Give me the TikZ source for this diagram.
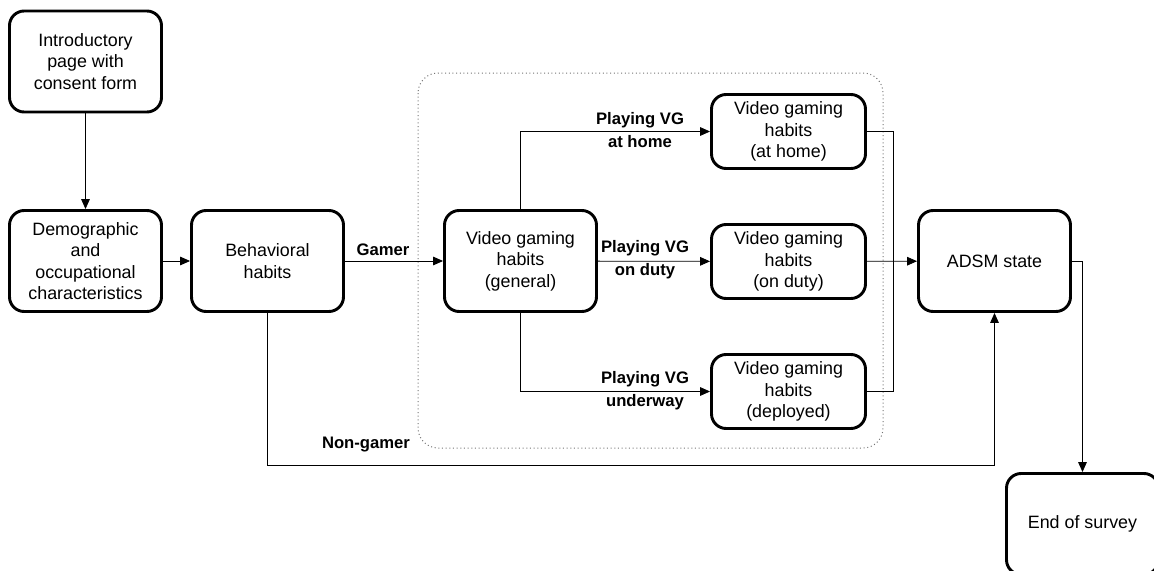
\documentclass[tikz,border=0pt]{standalone}
\usepackage{fontspec}
\setmainfont{Liberation Sans}
\usetikzlibrary{arrows.meta}

\tikzset{every picture/.style={line width=0.75pt}}
\tikzset{
  stepbox/.style={draw, line width=2.2pt, rounded corners=11pt, align=center,
    minimum width=114pt, minimum height=75.75pt, inner sep=2pt},
  vgbox/.style={stepbox, minimum width=115.5pt, minimum height=55.5pt},
  conn/.style={line width=0.6pt},
  arr/.style={conn, -{Triangle[length=7.5pt,width=6.5pt]}},
  tag/.style={font=\fontsize{12.5}{17}\selectfont\bfseries, align=center, inner sep=0.75pt}
}

\begin{document}
\begin{tikzpicture}[x=0.75pt,y=0.75pt,yscale=-1,xscale=1,
  every node/.append style={font=\fontsize{13.4}{16.1}\selectfont}]
\useasboundingbox (0,0) rectangle (1154,571);
\clip (0,0) rectangle (1154,571);

%Shape: Rounded Rect (group of the three habits)
\draw [color=black!55, dotted, line width=0.75pt, rounded corners=15pt] (418,73) rectangle (883,448) ;

%Shape: Rounded Rect
\node [stepbox] (intro) at (85.5,61.5) {Introductory\\page with\\consent form};
\node [stepbox] (demo) at (85.5,261) {Demographic\\and\\occupational\\characteristics};
\node [stepbox] (behav) at (267.5,261) {Behavioral\\habits};
\node [stepbox] (gen) at (520.5,261) {Video gaming\\habits\\(general)};
\node [vgbox] (home) at (788.5,131.5) {Video gaming\\habits\\(at home)};
\node [vgbox] (duty) at (788.5,261.5) {Video gaming\\habits\\(on duty)};
\node [vgbox] (depl) at (788.5,391.5) {Video gaming\\habits\\(deployed)};
\node [stepbox] (adsm) at (994.5,261) {ADSM state};
\node [stepbox] (end) at (1082.5,524) {End of survey};

%Coordinates for the bends
\coordinate (br) at (893,0) ;
\coordinate (ng) at (0,465) ;

%Straight Lines
\draw [arr] (intro) -- (demo) ;
\draw [arr] (demo) -- (behav) ;
\draw [arr] (behav) -- (gen) ;
\draw [arr] (gen.north) |- (home.west) ;
\draw [arr] (gen) -- (duty) ;
\draw [arr] (gen.south) |- (depl.west) ;
\draw [conn] (home.east) -- (home.east -| br) |- (depl.east) ;
\draw [arr] (duty) -- (adsm) ;
\draw [arr] (behav.south) |- (adsm.south |- ng) -- (adsm.south) ;
\draw [arr] (adsm.east) -| (end.north) ;

% Text Node
\node [tag] (gamer) at (383,250) {Gamer};
% Text Node
\node [tag] (athome) at (640,130) {Playing VG\\at home};
% Text Node
\node [tag] (onduty) at (645,260) {Playing VG\\on duty};
% Text Node
\node [tag] (underway) at (645,391) {Playing VG\\underway};
% Text Node
\node [tag] (nongamer) at (366,445) {Non-gamer};

\end{tikzpicture}
\end{document}
